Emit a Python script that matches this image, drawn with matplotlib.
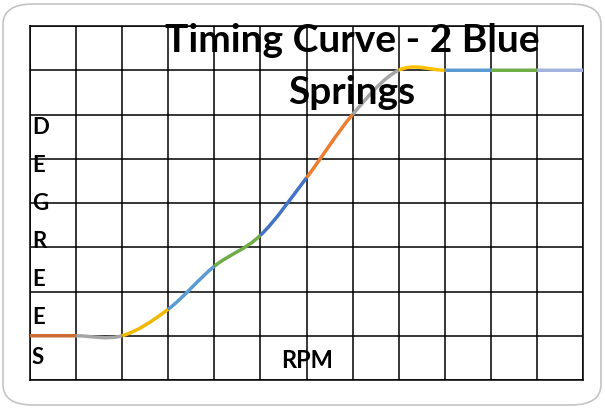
import matplotlib
matplotlib.use("Agg")
import matplotlib.pyplot as plt
from matplotlib.path import Path
from matplotlib.patches import PathPatch, FancyBboxPatch

# Data: RPM grid positions and degrees (grid units)
rpm = [0, 1, 2, 3, 4, 5, 6, 7, 8, 9, 10, 11, 12]
degrees = [1.0, 1.0, 1.0, 1.6, 2.57, 3.27, 4.57, 6.0, 7.0, 7.0, 7.0, 7.0, 7.0]
seg_colors = ["#CB6A35", "#A5A5A5", "#F2B800", "#5B9BD5", "#70AD47", "#4472C4",
              "#ED7D31", "#A5A5A5", "#FFC000", "#5B9BD5", "#70AD47", "#A3B3DE"]
title_lines = ["Timing Curve - 2 Blue", "Springs"]
ylabel_letters = list("DEGREES")
xlabel = "RPM"

fig = plt.figure(figsize=(6.05, 4.08), dpi=100)
W, H = 605, 408

# rounded border
border = FancyBboxPatch((3 / W, 3 / H), 598 / W, 401 / H,
                        boxstyle="round,pad=0,rounding_size=0.05",
                        transform=fig.transFigure, facecolor="white",
                        edgecolor="#C4C4C4", linewidth=1.2, zorder=-5)
fig.patches.append(border)

ax = fig.add_axes([30 / W, 1 - 380 / H, 553 / W, 354 / H])
ax.set_zorder(1)
ax.set_xlim(0, 12)
ax.set_ylim(0, 8)
ax.set_xticks(range(0, 13))
ax.set_yticks(range(0, 9))
ax.grid(True, color="black", linewidth=1.1)
ax.tick_params(length=0, labelbottom=False, labelleft=False)
for s in ax.spines.values():
    s.set_color("black")
    s.set_linewidth(1.1)
ax.set_facecolor("none")

# smoothed line (Catmull-Rom style cubic Bezier between points)
n = len(rpm)
tang = []
for i in range(n):
    a = max(i - 1, 0)
    b = min(i + 1, n - 1)
    tang.append((degrees[b] - degrees[a]) / (rpm[b] - rpm[a]))
for i in range(n - 1):
    dx = rpm[i + 1] - rpm[i]
    verts = [(rpm[i], degrees[i]),
             (rpm[i] + dx / 3, degrees[i] + tang[i] * dx / 3),
             (rpm[i + 1] - dx / 3, degrees[i + 1] - tang[i + 1] * dx / 3),
             (rpm[i + 1], degrees[i + 1])]
    path = Path(verts, [Path.MOVETO, Path.CURVE4, Path.CURVE4, Path.CURVE4])
    ax.add_patch(PathPatch(path, fill=False, edgecolor=seg_colors[i],
                           linewidth=2.5, capstyle="butt", zorder=3, clip_on=False))

font = "Lato"
ax.text(352 / W, 1 - 41 / H, title_lines[0], ha="center", va="center",
        fontsize=28, fontweight="bold", family=font, zorder=5,
        transform=fig.transFigure)
ax.text(352 / W, 1 - 93 / H, title_lines[1], ha="center", va="center",
        fontsize=28, fontweight="bold", family=font, zorder=5,
        transform=fig.transFigure)

ys = [127, 165, 203, 241, 279, 317, 357]
for ch, y in zip(ylabel_letters, ys):
    ax.text(32 / W, 1 - y / H, ch, ha="left", va="center", fontsize=16,
            fontweight="bold", family=font, transform=fig.transFigure, zorder=5)
ax.text(307 / W, 1 - 360 / H, xlabel, ha="center", va="center", fontsize=17,
        fontweight="bold", family=font, transform=fig.transFigure, zorder=5)

fig.savefig("out.png", dpi=100)
